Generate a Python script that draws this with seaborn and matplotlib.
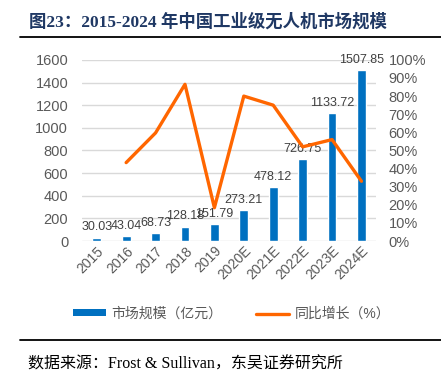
import matplotlib
matplotlib.use("Agg")
import matplotlib.pyplot as plt
import numpy as np
import pandas as pd
import seaborn as sns
from matplotlib.lines import Line2D
from matplotlib.patches import Patch

years = ["2015", "2016", "2017", "2018", "2019",
         "2020E", "2021E", "2022E", "2023E", "2024E"]
market_size = [30.03, 43.04, 68.73, 128.18, 151.79,
               273.21, 478.12, 726.75, 1133.72, 1507.85]
# growth (%) from 2016 on
growth_years = years[1:]
growth_pct = [43.3, 59.7, 86.5, 18.4, 80.0, 75.0, 52.0, 56.0, 33.0]

_BLUE = "#0070C0"
_ORANGE = "#FF6600"
_GRAY = "#595959"
_CJK = ["Liberation Sans", "Noto Sans CJK SC"]
_SERIF_CJK = ["Liberation Serif", "Noto Sans CJK SC"]

sns.set_style("white")
plt.rcParams["font.family"] = _CJK

fig = plt.figure(figsize=(4.41, 3.79), dpi=100)
ax = fig.add_axes([0.186, 0.364, 0.667, 0.478])

df = pd.DataFrame({"year": years, "size": market_size})
sns.barplot(data=df, x="year", y="size", color=_BLUE, width=0.3,
            saturation=1, ax=ax, zorder=3)
for c in ax.containers:
    ax.bar_label(c, labels=[f"{v:.2f}" for v in market_size],
                 padding=3, fontsize=9, color="#404040")

ax.set_ylim(0, 1600)
ax.set_yticks(range(0, 1601, 200))
ax.set_xlim(-0.5, 9.5)
ax.grid(axis="y", color="#D9D9D9", linewidth=1, zorder=0)
ax.set_xlabel("")
ax.set_ylabel("")
ax.tick_params(axis="y", labelsize=10.5, colors=_GRAY, length=0, pad=10)
ax.tick_params(axis="x", labelsize=10, colors=_GRAY, length=0, pad=2)
plt.setp(ax.get_xticklabels(), rotation=45, ha="right", rotation_mode="anchor")
for s in ax.spines.values():
    s.set_visible(False)

ax2 = ax.twinx()
gdf = pd.DataFrame({"pos": np.arange(1, len(years)), "g": np.array(growth_pct) / 100})
sns.lineplot(data=gdf, x="pos", y="g", color=_ORANGE, linewidth=2.4, ax=ax2)
ax2.set_ylim(0, 1)
ax2.set_yticks(np.arange(0, 1.01, 0.1))
ax2.set_yticklabels([f"{int(round(v * 100))}%" for v in np.arange(0, 1.01, 0.1)])
ax2.tick_params(axis="y", labelsize=10.5, colors=_GRAY, length=0, pad=9)
ax2.set_ylabel("")
ax2.grid(False)
for s in ax2.spines.values():
    s.set_visible(False)
ax.set_xlim(-0.5, 9.5)

handles = [Patch(facecolor=_BLUE, edgecolor="none"),
           Line2D([0], [0], color=_ORANGE, linewidth=2.4)]
fig.legend(handles, ["市场规模（亿元）", "同比增长（%）"],
           loc="center", bbox_to_anchor=(0.525, 0.172), ncol=2, frameon=False,
           fontsize=10, labelcolor=_GRAY, handlelength=2.4, handleheight=0.4,
           columnspacing=2.4, handletextpad=0.4)

fig.text(0.066, 0.942, "图23：2015-2024 年中国工业级无人机市场规模",
         fontsize=12.5, fontweight="bold", color="#1F3864",
         family=_SERIF_CJK, va="center", ha="left")
fig.add_artist(Line2D([0.045, 1.0], [0.902, 0.902], color="black", linewidth=1.3))
fig.add_artist(Line2D([0.045, 1.0], [0.103, 0.103], color="black", linewidth=1.3))
fig.text(0.064, 0.037, "数据来源：Frost & Sullivan，东吴证券研究所",
         fontsize=11.5, color="black", family=_SERIF_CJK, va="center", ha="left")

fig.savefig("out.png", dpi=100)
